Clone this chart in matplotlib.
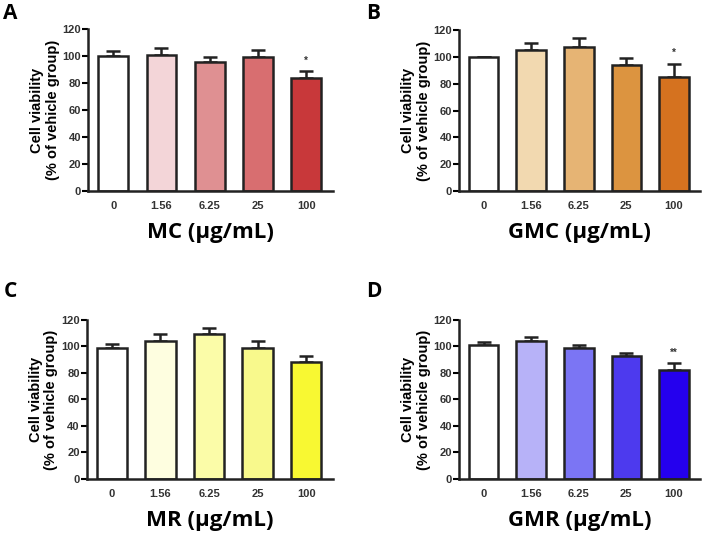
import numpy as np
import matplotlib
matplotlib.use('Agg')
import matplotlib.pyplot as plt

plt.rcParams['font.family'] = ['Liberation Sans', 'DejaVu Sans']

# === DATA ===
doses = ["0", "1.56", "6.25", "25", "100"]

mc_mean = [100, 101, 95.5, 99, 84]
mc_sem = [3.5, 4.5, 3.5, 5, 4.5]
gmc_mean = [100, 105, 107, 94, 85]
gmc_sem = [0, 5, 7, 5, 10]
mr_mean = [98.5, 104, 109, 99, 88.5]
mr_sem = [3, 5, 5, 5, 4]
gmr_mean = [101, 104, 98.5, 92.5, 82.5]
gmr_sem = [2.5, 3, 2.5, 2.5, 5]

mc_colors = ["#ffffff", "#f3d5d8", "#df9092", "#d86e70", "#c8383a"]
gmc_colors = ["#ffffff", "#f2d9b0", "#e6b474", "#dc9440", "#d5721f"]
mr_colors = ["#ffffff", "#fefee0", "#fbfca8", "#f8f98c", "#f8f832"]
gmr_colors = ["#ffffff", "#b7b2f8", "#7b75f4", "#4d3aee", "#2500ee"]

mc_sig = ["", "", "", "", "*"]
gmc_sig = ["", "", "", "", "*"]
mr_sig = ["", "", "", "", ""]
gmr_sig = ["", "", "", "", "**"]

# letter, x label, data, axes rect, letter position (pixels from top-left)
panels = [
    ("A", "MC (µg/mL)", mc_mean, mc_sem, mc_colors, mc_sig, [0.125, 0.642, 0.347, 0.304], (3, 3)),
    ("B", "GMC (µg/mL)", gmc_mean, gmc_sem, gmc_colors, gmc_sig, [0.651, 0.642, 0.342, 0.302], (366, 3)),
    ("C", "MR (µg/mL)", mr_mean, mr_sem, mr_colors, mr_sig, [0.123, 0.103, 0.349, 0.298], (4, 281)),
    ("D", "GMR (µg/mL)", gmr_mean, gmr_sem, gmr_colors, gmr_sig, [0.651, 0.103, 0.342, 0.298], (366, 281)),
]

W, H = 705, 534
fig = plt.figure(figsize=(W / 100, H / 100), dpi=100)

for letter, xlabel, mean, sem, colors, sig, rect, lpos in panels:
    ax = fig.add_axes(rect)
    x = np.arange(len(doses))
    ax.errorbar(x, mean, yerr=[np.zeros(len(sem)), sem], fmt="none",
                ecolor="#222222", elinewidth=1.8, capsize=5, capthick=1.8, zorder=1)
    ax.bar(x, mean, width=0.62, color=colors, edgecolor="#222222",
           linewidth=1.8, zorder=2)
    for xi, m, s, t in zip(x, mean, sem, sig):
        if t:
            ax.text(xi, m + s + 4, t, ha="center", va="bottom",
                    fontsize=7, fontweight="bold", color="#333333")

    ax.set_xlim(-0.52, 4.55)
    ax.set_ylim(0, 120)
    ax.set_yticks(range(0, 121, 20))
    ax.set_xticks(x)
    ax.set_xticklabels(doses)
    ax.tick_params(axis="y", length=4, width=1.5, labelsize=8, pad=1)
    ax.tick_params(axis="x", length=0, labelsize=8, pad=7)
    for lab in ax.get_xticklabels() + ax.get_yticklabels():
        lab.set_fontweight("bold")
        lab.set_color("#333333")
    for side in ["top", "right"]:
        ax.spines[side].set_visible(False)
    for side in ["left", "bottom"]:
        ax.spines[side].set_linewidth(1.8)
        ax.spines[side].set_color("#222222")

    ax.set_ylabel("Cell viability\n(% of vehicle group)", fontsize=10.5,
                  fontweight="bold", linespacing=1.15, labelpad=2)
    ax.set_xlabel(xlabel, fontsize=16, family=["Open Sans", "DejaVu Sans"],
                  fontweight="bold", labelpad=8)

    fig.text(lpos[0] / W, 1 - lpos[1] / H, letter, fontsize=15,
             fontweight="bold", family=["Open Sans", "DejaVu Sans"],
             ha="left", va="top")

fig.savefig("out.png", dpi=100)
